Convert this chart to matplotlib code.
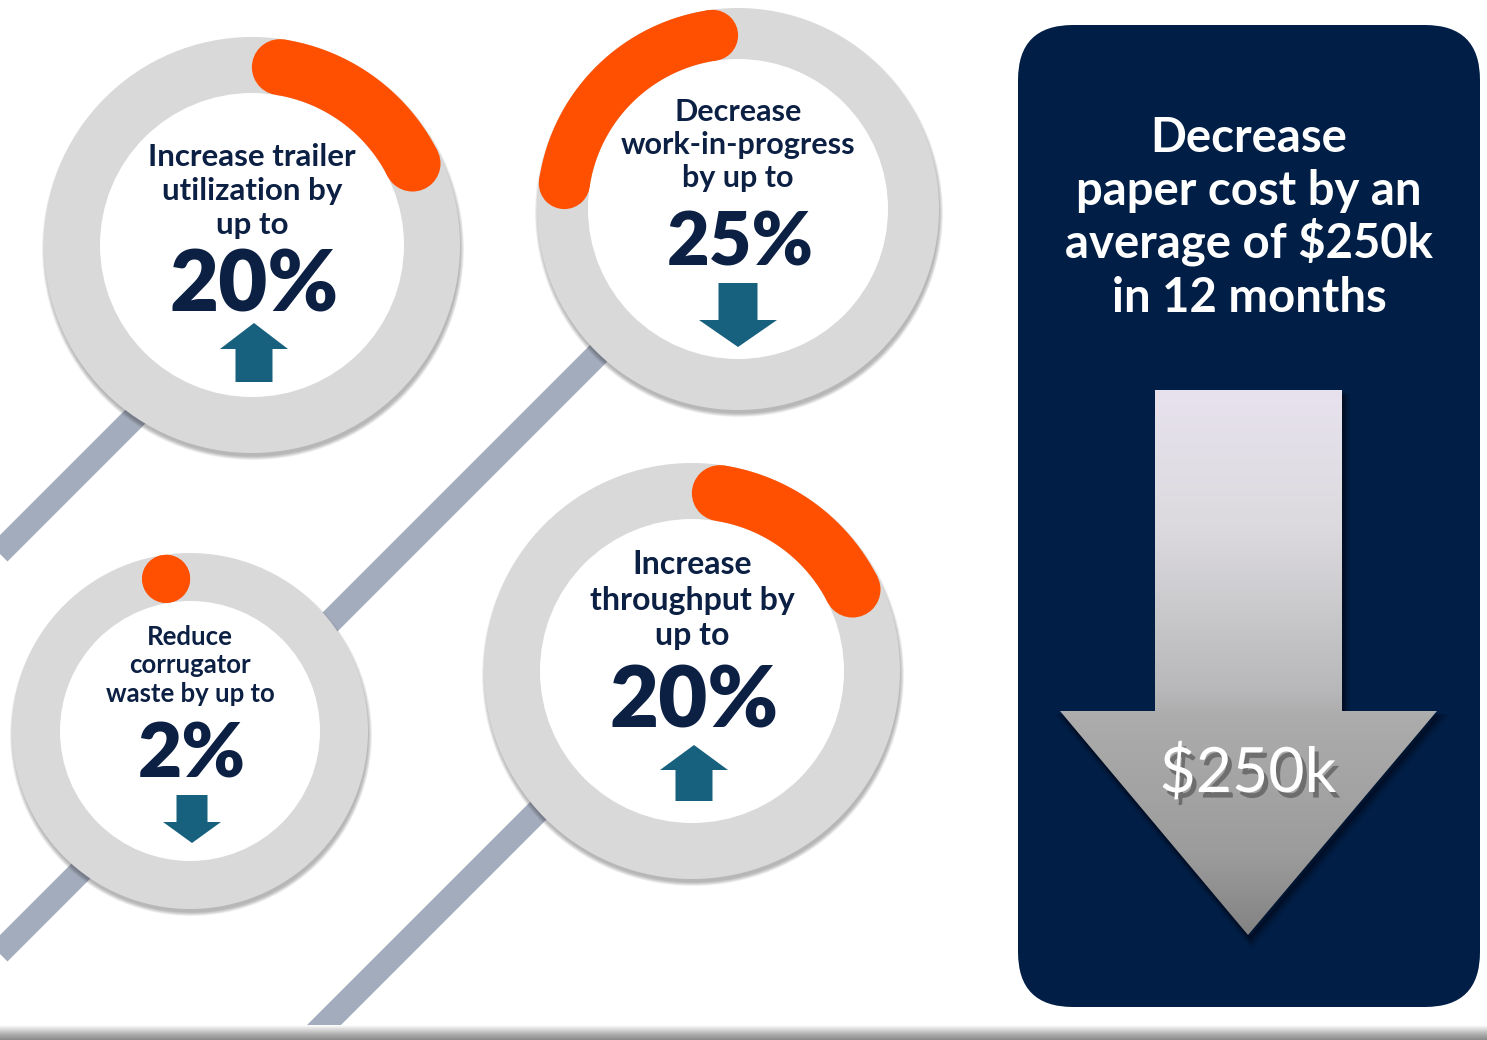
import numpy as np
import matplotlib
matplotlib.use("Agg")
import matplotlib.pyplot as plt
from matplotlib.patches import Circle, Polygon, FancyBboxPatch
from matplotlib.colors import LinearSegmentedColormap
import matplotlib.patheffects as pe

# ---------------- data ----------------
kpi_labels = [
    ["Increase trailer", "utilization by", "up to"],
    ["Decrease", "work-in-progress", "by up to"],
    ["Reduce", "corrugator", "waste by up to"],
    ["Increase", "throughput by", "up to"],
]
kpi_values = [20, 25, 2, 20]            # percent
kpi_directions = ["up", "down", "down", "up"]
panel_title = ["Decrease", "paper cost by an", "average of $250k", "in 12 months"]
savings_k = 250

# ---------------- layout / style ----------------
W, H = 1487, 1040
NAVY = "#0c2044"
RING = "#d9d9d9"
ORANGE = "#fe5000"
BLUE = "#17617f"
LINE = "#a3acbc"
PANEL = "#011f46"

circle_centers = [(252, 245), (738, 209), (190, 731), (692, 671)]
outer_r = [208, 201, 178, 208]
inner_r = [152, 150, 130, 152]
label_baselines = [[166, 200, 234], [121, 154, 187], [645, 673, 702], [574, 610, 645]]
label_size = [22.5, 22, 18.5, 23]
value_baseline = [311, 265, 777, 727]
value_size = [61, 53, 55, 61]
# cx, tip_y, head_base_y, tail_y, head_w, shaft_w
arrow_geom = [
    (254, 323, 349, 382, 68, 37),
    (738, 347, 320, 283, 78, 39),
    (192, 843, 822, 795, 58, 31),
    (694, 745, 770, 801, 68, 37),
]
# connector lines (pixel endpoints, drawn under circles)
connectors = [((-5, 557), (200, 352)),
              ((-5, 957), (738, 214)),
              ((306, 1043), (692, 657))]

plt.rcParams["font.family"] = ["Lato", "DejaVu Sans"]

fig = plt.figure(figsize=(W / 100, H / 100), dpi=100)
ax = fig.add_axes([0, 0, 1, 1])
ax.set_xlim(0, W)
ax.set_ylim(H, 0)
ax.axis("off")
fig.patch.set_facecolor("white")

PT = 0.72  # points per pixel at dpi 100

# connector lines
for (x0, y0), (x1, y1) in connectors:
    ax.plot([x0, x1], [y0, y1], color=LINE, lw=24 * PT, solid_capstyle="butt", zorder=1)


def pt_on(cx, cy, r, a_deg):
    a = np.deg2rad(a_deg)
    return cx + r * np.cos(a), cy - r * np.sin(a)


for i in range(4):
    cx, cy = circle_centers[i]
    R, r = outer_r[i], inner_r[i]
    # soft drop shadow
    for k in range(7):
        ax.add_patch(Circle((cx + 1, cy + 4), R + 3 - k * 0.6, color="#202020",
                            alpha=0.05, lw=0, zorder=2))
    ax.add_patch(Circle((cx, cy), R, color=RING, lw=0, zorder=3))
    ax.add_patch(Circle((cx, cy), r, color="white", lw=0, zorder=4))

    # orange progress arc: visible span (including round caps) = pct of circle
    w = R - r
    rm = (R + r) / 2
    cap = np.rad2deg((w / 2) / rm)
    span = kpi_values[i] / 100 * 360
    sgn = -1 if kpi_directions[i] == "up" else 1   # up: clockwise, down: counter-clockwise
    a0 = 90 + sgn * cap
    a1 = 90 + sgn * max(span - cap, cap)
    if abs(a1 - a0) > 0.2:
        angs = np.linspace(a0, a1, 80)
        outer = [pt_on(cx, cy, R, a) for a in angs]
        inner = [pt_on(cx, cy, r, a) for a in angs[::-1]]
        ax.add_patch(Polygon(outer + inner, closed=True, color=ORANGE, lw=0, zorder=5))
    for a in (a0, a1):
        ax.add_patch(Circle(pt_on(cx, cy, rm, a), w / 2, color=ORANGE, lw=0, zorder=5))

    # label
    for line, yb in zip(kpi_labels[i], label_baselines[i]):
        ax.text(cx, yb, line, ha="center", va="baseline", fontsize=label_size[i],
                fontweight="bold", color=NAVY, zorder=6)
    ax.text(cx + 2, value_baseline[i], f"{kpi_values[i]}%", ha="center", va="baseline",
            fontsize=value_size[i], fontweight="heavy", color=NAVY, zorder=6)

    # direction arrow
    ax_, tip, base, tail, hw, sw = arrow_geom[i]
    pts = [(ax_, tip), (ax_ + hw / 2, base), (ax_ + sw / 2, base), (ax_ + sw / 2, tail),
           (ax_ - sw / 2, tail), (ax_ - sw / 2, base), (ax_ - hw / 2, base)]
    ax.add_patch(Polygon(pts, closed=True, color=BLUE, lw=0, zorder=6))

# ---------------- right panel ----------------
ax.add_patch(FancyBboxPatch((1018, 25), 462, 982,
                            boxstyle="round,pad=0,rounding_size=55",
                            fc=PANEL, ec="none", zorder=2))
title_baselines = [152, 205, 258, 312]
for line, yb in zip(panel_title, title_baselines):
    ax.text(1249, yb, line, ha="center", va="baseline", fontsize=34,
            fontweight="bold", color="white", zorder=6)

# big gradient arrow
arrow_pts = [(1155, 390), (1342, 390), (1342, 711), (1437, 711), (1248, 935),
             (1060, 711), (1155, 711)]
for k, a in enumerate([0.25, 0.2, 0.15]):
    ax.add_patch(Polygon([(x + 2 + k, y + 4 + k * 2) for x, y in arrow_pts], closed=True,
                         fc="#000a1c", ec="#000a1c", lw=2 + 2 * k, alpha=a, zorder=3))
poly = Polygon(arrow_pts, closed=True, fc="none", ec="none", zorder=4)
ax.add_patch(poly)
cmap = LinearSegmentedColormap.from_list(
    "arr", [(0, "#e7e2ee"), (0.25, "#dcdade"), (0.55, "#b8b8ba"), (0.6, "#acacad"),
            (0.85, "#9c9c9c"), (1, "#838383")])
grad = np.linspace(0, 1, 256).reshape(-1, 1)
im = ax.imshow(grad, cmap=cmap, extent=(1060, 1437, 935, 390), origin="upper",
               aspect="auto", zorder=4, interpolation="bilinear")
im.set_clip_path(poly)

ax.text(1248, 792, f"${savings_k}k", ha="center", va="baseline", fontsize=45,
        color="white", zorder=6,
        path_effects=[pe.SimplePatchShadow(offset=(3, -4), shadow_rgbFace="#4a4a4a", alpha=0.6),
                      pe.Normal()])

# bottom shaded bar
bar = np.linspace(0, 1, 64).reshape(-1, 1)
bcmap = LinearSegmentedColormap.from_list("bar", [(0, "#ffffff"), (0.6, "#b0b0b0"), (1, "#8a8a8a")])
ax.imshow(bar, cmap=bcmap, extent=(0, W, 1040, 1025), origin="upper", aspect="auto",
          zorder=7, interpolation="bilinear")

ax.set_xlim(0, W)
ax.set_ylim(H, 0)
fig.savefig("out.png", dpi=100, facecolor="white")
